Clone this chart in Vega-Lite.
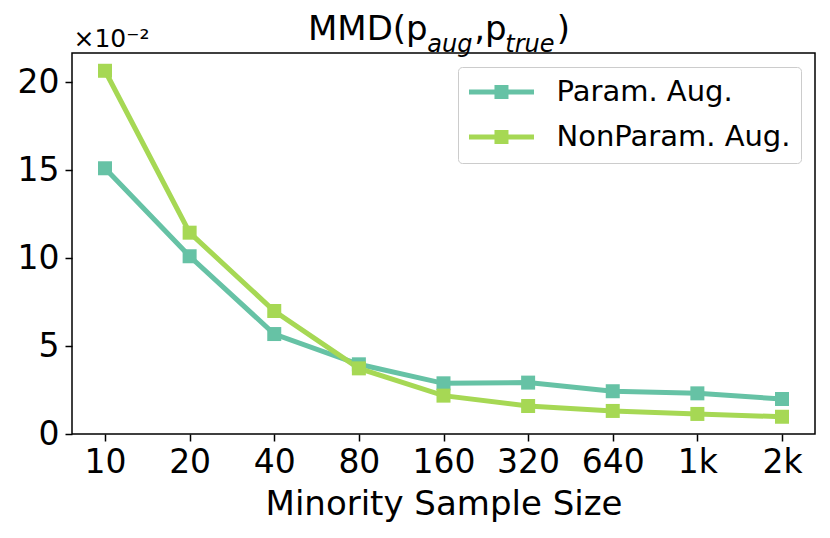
{
  "$schema": "https://vega.github.io/schema/vega-lite/v6.json",
  "autosize": {"type": "none"},
  "padding": {"left": 72, "top": 53, "right": 15, "bottom": 104},
  "width": 743,
  "height": 381,
  "background": "white",
  "title": {
    "text": "MMD(p\u00a0\u00a0\u00a0\u00a0\u200a,p\u00a0\u00a0\u00a0\u00a0\u2009)",
    "subtitle": "\u200b\u00a0\u00a0\u00a0\u00a0\u00a0\u00a0\u00a0\u00a0\u00a0\u00a0\u00a0\u00a0\u00a0\u00a0\u00a0\u2009aug\u00a0\u00a0\u00a0\u00a0\u200atrue",
    "anchor": "start",
    "frame": "group",
    "dx": 236,
    "fontSize": 34,
    "fontWeight": "normal",
    "font": "DejaVu Sans",
    "color": "black",
    "subtitleFont": "DejaVu Sans",
    "subtitleFontSize": 24,
    "subtitleFontStyle": "italic",
    "subtitleColor": "black",
    "subtitlePadding": -14,
    "offset": -30.5
  },
  "data": {
    "values": [
      {"size": "10", "method": "Param. Aug.", "mmd": 0.151},
      {"size": "20", "method": "Param. Aug.", "mmd": 0.101},
      {"size": "40", "method": "Param. Aug.", "mmd": 0.0568},
      {"size": "80", "method": "Param. Aug.", "mmd": 0.0396},
      {"size": "160", "method": "Param. Aug.", "mmd": 0.0288},
      {"size": "320", "method": "Param. Aug.", "mmd": 0.0292},
      {"size": "640", "method": "Param. Aug.", "mmd": 0.0243},
      {"size": "1k", "method": "Param. Aug.", "mmd": 0.0231},
      {"size": "2k", "method": "Param. Aug.", "mmd": 0.0199},
      {"size": "10", "method": "NonParam. Aug.", "mmd": 0.2064},
      {"size": "20", "method": "NonParam. Aug.", "mmd": 0.1144},
      {"size": "40", "method": "NonParam. Aug.", "mmd": 0.0699},
      {"size": "80", "method": "NonParam. Aug.", "mmd": 0.0373},
      {"size": "160", "method": "NonParam. Aug.", "mmd": 0.0218},
      {"size": "320", "method": "NonParam. Aug.", "mmd": 0.0159},
      {"size": "640", "method": "NonParam. Aug.", "mmd": 0.0131},
      {"size": "1k", "method": "NonParam. Aug.", "mmd": 0.0114},
      {"size": "2k", "method": "NonParam. Aug.", "mmd": 0.0098}
    ]
  },
  "encoding": {
    "x": {
      "field": "size",
      "type": "ordinal",
      "sort": ["10", "20", "40", "80", "160", "320", "640", "1k", "2k"],
      "scale": {"type": "point", "padding": 0.39},
      "axis": {"title": "Minority Sample Size", "labelAngle": 0, "labelPadding": 5, "titlePadding": 8, "titleFontSize": 34}
    },
    "y": {
      "field": "mmd",
      "type": "quantitative",
      "scale": {"domain": [0, 0.2165], "nice": false, "zero": true},
      "axis": {
        "values": [0, 0.05, 0.1, 0.15, 0.2],
        "labelExpr": "format(datum.value * 100, 'd')",
        "labelPadding": 6,
        "title": "\u00d710\u207b\u00b2",
        "titleAngle": 0,
        "titleAlign": "left",
        "titleBaseline": "alphabetic",
        "titleX": 1,
        "titleY": -7,
        "titleFontSize": 25
      }
    },
    "color": {
      "field": "method",
      "type": "nominal",
      "scale": {"domain": ["Param. Aug.", "NonParam. Aug."], "range": ["#66c2a5", "#a6d854"]},
      "legend": {
        "title": null,
        "orient": "top-right",
        "offset": 14,
        "padding": 10.5,
        "fillColor": "white",
        "strokeColor": "#cccccc",
        "cornerRadius": 4,
        "labelFontSize": 29,
        "labelFont": "DejaVu Sans",
        "labelColor": "black",
        "labelLimit": 600,
        "labelOffset": 59,
        "rowPadding": 15,
        "symbolSize": 784,
        "symbolType": "M-1,-0.18H3.643V0.18H-1Z M0.82,-0.5H1.82V0.5H0.82Z",
        "symbolStrokeWidth": 0,
        "symbolOpacity": 1,
        "encode": {
          "symbols": {
            "update": {
              "fill": {"scale": "color", "field": "value"},
              "fillOpacity": {"value": 1},
              "strokeWidth": {"value": 0}
            }
          }
        }
      }
    }
  },
  "layer": [
    {"mark": {"type": "line", "strokeWidth": 5}},
    {"mark": {"type": "point", "shape": "square", "filled": true, "size": 196, "opacity": 1}}
  ],
  "config": {
    "font": "DejaVu Sans",
    "view": {"stroke": "black", "strokeWidth": 1.5},
    "axis": {
      "grid": false,
      "domain": false,
      "labelFontSize": 33,
      "labelColor": "black",
      "labelFont": "DejaVu Sans",
      "tickColor": "black",
      "tickSize": 7,
      "tickWidth": 1.5,
      "titleFontSize": 34,
      "titleFontWeight": "normal",
      "titleColor": "black",
      "titleFont": "DejaVu Sans"
    }
  }
}
